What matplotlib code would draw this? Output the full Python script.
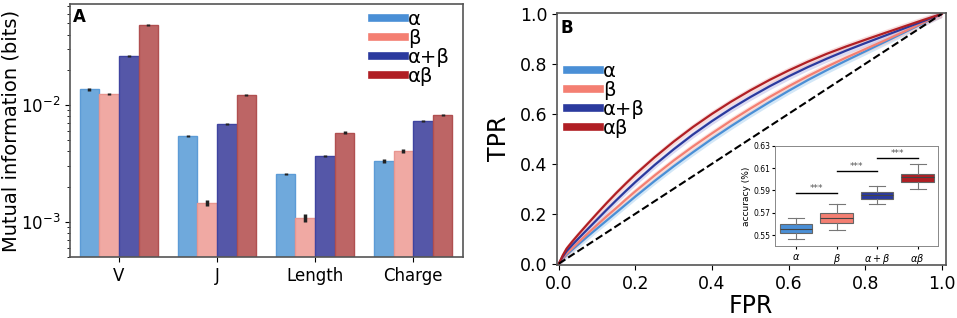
import numpy as np
import matplotlib
matplotlib.use("Agg")
import matplotlib.pyplot as plt
from matplotlib.lines import Line2D

plt.rcParams['font.family'] = ['DejaVu Sans']

# ---------------- Data ----------------
features = ["V", "J", "Length", "Charge"]
series = ["α", "β", "α+β", "αβ"]
mi_alpha = [0.0137, 0.00543, 0.00257, 0.00332]
mi_beta = [0.0124, 0.00145, 0.00108, 0.00405]
mi_ab_sum = [0.0262, 0.00689, 0.00366, 0.0073]
mi_ab_pair = [0.0483, 0.0122, 0.00577, 0.0082]
mi_err_alpha = [0.0004, 0.00015, 0.00007, 0.00015]
mi_err_beta = [0.0003, 0.00008, 0.00008, 0.00015]
mi_err_ab_sum = [0.0005, 0.00015, 0.00008, 0.0002]
mi_err_ab_pair = [0.0008, 0.0003, 0.00018, 0.0002]

fpr = [0, 0.01, 0.02, 0.035, 0.05, 0.075, 0.1, 0.125, 0.15, 0.175, 0.2, 0.25, 0.3,
       0.35, 0.4, 0.45, 0.5, 0.55, 0.6, 0.65, 0.7, 0.75, 0.8, 0.85, 0.9, 0.95, 1.0]
tpr_alpha = [0, 0.019, 0.035, 0.056, 0.076, 0.109, 0.141, 0.173, 0.205, 0.237, 0.269,
             0.331, 0.39, 0.446, 0.5, 0.551, 0.6, 0.647, 0.692, 0.735, 0.775, 0.813,
             0.85, 0.887, 0.924, 0.962, 1.0]
tpr_beta = [0, 0.022, 0.04, 0.062, 0.084, 0.12, 0.155, 0.19, 0.223, 0.257, 0.29,
            0.353, 0.413, 0.469, 0.522, 0.573, 0.621, 0.667, 0.71, 0.751, 0.789, 0.825,
            0.859, 0.893, 0.928, 0.964, 1.0]
tpr_ab_sum = [0, 0.028, 0.05, 0.075, 0.099, 0.138, 0.177, 0.216, 0.254, 0.291, 0.327,
              0.395, 0.458, 0.517, 0.571, 0.621, 0.667, 0.71, 0.75, 0.787, 0.821,
              0.853, 0.883, 0.912, 0.941, 0.97, 1.0]
tpr_ab_pair = [0, 0.033, 0.06, 0.0885, 0.1155, 0.159, 0.2015, 0.243, 0.283, 0.321, 0.358,
               0.426, 0.489, 0.547, 0.6, 0.649, 0.694, 0.7355, 0.7735, 0.8085, 0.8405,
               0.8695, 0.8965, 0.923, 0.949, 0.975, 1.0]

inset_labels = [r"$\alpha$", r"$\beta$", r"$\alpha+\beta$", r"$\alpha\beta$"]
acc_med = [0.5555, 0.5655, 0.5855, 0.6020]
acc_q1 = [0.5520, 0.5610, 0.5825, 0.5980]
acc_q3 = [0.5595, 0.5700, 0.5890, 0.6050]
acc_lo = [0.5460, 0.5545, 0.5775, 0.5915]
acc_hi = [0.5650, 0.5775, 0.5940, 0.6140]
sig_pairs = [(0, 1), (1, 2), (2, 3)]
sig_y = [0.5875, 0.6075, 0.6190]

# ---------------- Styles ----------------
leg_colors = ["#4a8fd6", "#f47f72", "#2b3a9e", "#b01f24"]
bar_colors = ["#6fa9dc", "#f0a9a3", "#5557a8", "#bd6565"]
bar_edges = ["#5c9bd6", "#e89690", "#3f44a0", "#b04f50"]
band_colors = ["#a8d0f0", "#f9c0b8", "#b8b8e6", "#f0b8b8"]

fig = plt.figure(figsize=(9.57, 3.18), dpi=100)

# ---------------- Panel A ----------------
axA = fig.add_axes([0.073, 0.192, 0.411, 0.795])
x = np.arange(len(features))
w = 0.2
vals = [mi_alpha, mi_beta, mi_ab_sum, mi_ab_pair]
errs = [mi_err_alpha, mi_err_beta, mi_err_ab_sum, mi_err_ab_pair]
for i in range(4):
    axA.bar(x - 0.3 + i * w, vals[i], w, color=bar_colors[i], edgecolor=bar_edges[i],
            linewidth=1.0, yerr=errs[i], ecolor="#222222",
            error_kw=dict(elinewidth=2.5, capsize=0))
axA.set_yscale("log")
axA.set_ylim(5e-4, 0.073)
axA.set_xlim(-0.5, 3.51)
axA.set_xticks(x)
axA.set_xticklabels(features, fontsize=12)
axA.tick_params(axis="y", labelsize=12)
axA.set_ylabel("Mutual information (bits)", fontsize=14, labelpad=0)
for s in axA.spines.values():
    s.set_color("#555555")
    s.set_linewidth(1.2)
axA.text(0.008, 0.985, "A", transform=axA.transAxes, fontsize=12, fontweight="bold",
         va="top", ha="left")
handles = [Line2D([0], [0], color=c, lw=5.5) for c in leg_colors]
axA.legend(handles, series, loc="upper right", frameon=False, fontsize=14,
           handlelength=1.7, labelspacing=0.0, handletextpad=0.15,
           borderaxespad=0.1, bbox_to_anchor=(0.99, 1.015))

# ---------------- Panel B ----------------
axB = fig.add_axes([0.582, 0.167, 0.406, 0.793])
tprs = [tpr_alpha, tpr_beta, tpr_ab_sum, tpr_ab_pair]
for i in range(4):
    t = np.array(tprs[i])
    axB.fill_between(fpr, t - 0.014, t + 0.014, color=band_colors[i], alpha=0.5, lw=0)
for i in range(4):
    axB.plot(fpr, tprs[i], color=leg_colors[i], lw=1.6)
axB.plot([0, 1], [0, 1], "k--", lw=1.5)
axB.set_xlim(-0.005, 1.01)
axB.set_ylim(-0.005, 1.005)
axB.set_xticks([0, 0.2, 0.4, 0.6, 0.8, 1.0])
axB.set_yticks([0, 0.2, 0.4, 0.6, 0.8, 1.0])
axB.tick_params(labelsize=12.5)
axB.set_xlabel("FPR", fontsize=17, labelpad=1)
axB.set_ylabel("TPR", fontsize=17, labelpad=6)
for s in axB.spines.values():
    s.set_color("#555555")
    s.set_linewidth(1.2)
axB.text(0.01, 0.975, "B", transform=axB.transAxes, fontsize=12, fontweight="bold",
         va="top", ha="left")
handlesB = [Line2D([0], [0], color=c, lw=5.5) for c in leg_colors]
axB.legend(handlesB, series, loc="upper left", frameon=False, fontsize=14,
           handlelength=1.7, labelspacing=0.0, handletextpad=0.15,
           bbox_to_anchor=(0.0, 0.845), borderaxespad=0.1)

# ---------------- Inset ----------------
axI = fig.add_axes([0.810, 0.226, 0.170, 0.315])
stats = []
for i in range(4):
    stats.append(dict(med=acc_med[i], q1=acc_q1[i], q3=acc_q3[i],
                      whislo=acc_lo[i], whishi=acc_hi[i], fliers=[]))
bp = axI.bxp(stats, positions=range(4), widths=0.8, patch_artist=True,
             showfliers=False,
             medianprops=dict(color="#444444", lw=0.8),
             whiskerprops=dict(color="#777777", lw=0.8),
             capprops=dict(color="#777777", lw=0.8),
             boxprops=dict(edgecolor="#666666", lw=0.8))
for patch, c in zip(bp["boxes"], leg_colors):
    patch.set_facecolor(c)
for (a, b), yv in zip(sig_pairs, sig_y):
    axI.plot([a, b], [yv, yv], color="k", lw=1.0)
    axI.text((a + b) / 2, yv + 0.0002, "***", ha="center", va="bottom",
             fontsize=6.5, color="#555555")
axI.set_xlim(-0.52, 3.5)
axI.set_ylim(0.540, 0.630)
axI.set_yticks([0.55, 0.57, 0.59, 0.61, 0.63])
axI.set_yticklabels(["0.55", "0.57", "0.59", "0.61", "0.63"])
axI.set_xticks(range(4))
axI.set_xticklabels(inset_labels)
axI.tick_params(axis="y", labelsize=5.5, length=2, pad=1.5)
axI.tick_params(axis="x", labelsize=7, length=2, pad=2)
axI.set_ylabel("accuracy (%)", fontsize=6.5, labelpad=2)
for s in axI.spines.values():
    s.set_color("#888888")
    s.set_linewidth(0.7)

fig.savefig("out.png", dpi=100)
